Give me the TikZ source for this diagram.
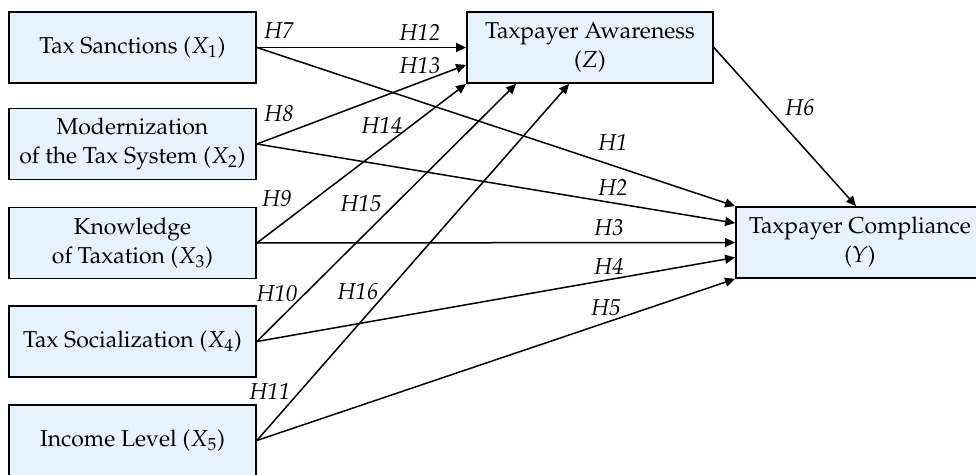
\documentclass[tikz,border=0pt]{standalone}
\usepackage[T1]{fontenc}
\usepackage{mathpazo}
\usepackage{xcolor}
\usepackage{tikz}
\usetikzlibrary{arrows.meta, calc}
\definecolor{boxblue}{RGB}{230,243,252}
\tikzset{
  font=\fontsize{11.5}{14.5}\selectfont,         % palatino text everywhere
  construct/.style = {rectangle, draw, line width=0.9pt, fill=boxblue,
                      minimum width=123.5pt, minimum height=35.5pt,
                      inner sep=0pt, align=center},
  arrow/.style     = {-{Triangle[length=5pt, width=4.5pt]}, line width=0.75pt},
  hyp/.style       = {font=\fontsize{11.5}{13}\selectfont\itshape, inner sep=0pt}
}

\begin{document}
\begin{tikzpicture}[x=0.5pt, y=-0.5pt]
  \clip (0,0) rectangle (976,475);
  \useasboundingbox (0,0) rectangle (976,475);
  % constructs
  \node[construct] (X1) at (132.5,47.5) {Tax Sanctions ($X_1$)};
  \node[construct] (X2) at (132.5,144) {Modernization\\of the Tax System ($X_2$)};
  \node[construct] (X3) at (132.5,243) {Knowledge\\of Taxation ($X_3$)};
  \node[construct] (X4) at (132.5,341.5) {Tax Socialization ($X_4$)};
  \node[construct] (X5) at (132.5,440.5) {Income Level ($X_5$)};
  \node[construct, minimum width=123pt] (Z) at (590,47.5) {Taxpayer Awareness\\($Z$)};
  \node[construct, minimum width=124pt] (Y) at (860,242.5) {Taxpayer Compliance\\($Y$)};
  % paths to awareness
  \draw[arrow] (X1.east) -- (Z.west);
  \draw[arrow] (X2.east) -- ($(Z.south west)+(0,-19)$);
  \draw[arrow] (X3.east) -- (Z.south west);
  \draw[arrow] (X4.east) -- ($(Z.south west)+(50,0)$);
  \draw[arrow] (X5.east) -- ($(Z.south west)+(103,0)$);
  % paths to compliance
  \draw[arrow] (X1.east) -- (Y.north west);
  \draw[arrow] (X2.east) -- ($(Y.north west)+(0,17)$);
  \draw[arrow] (X3.east) -- (Y.west);
  \draw[arrow] (X4.east) -- ($(Y.west)+(0,15)$);
  \draw[arrow] (X5.east) -- (Y.south west);
  \draw[arrow] (Z.east) -- ($(Y.north west)+(121,0)$);
  % hypotheses
  \node[hyp] (h1) at (613,143) {H1};
  \node[hyp] (h2) at (613,188) {H2};
  \node[hyp] (h3) at (609,228) {H3};
  \node[hyp] (h4) at (609,267) {H4};
  \node[hyp] (h5) at (606,308) {H5};
  \node[hyp] (h6) at (800,108) {H6};
  \node[hyp] (h7) at (279,31) {H7};
  \node[hyp] (h8) at (279,114) {H8};
  \node[hyp] (h9) at (277,199) {H9};
  \node[hyp] (h10) at (277,294) {H10};
  \node[hyp] (h11) at (270,392) {H11};
  \node[hyp] (h12) at (420,33) {H12};
  \node[hyp] (h13) at (420,66) {H13};
  \node[hyp] (h14) at (382,126) {H14};
  \node[hyp] (h15) at (361,204) {H15};
  \node[hyp] (h16) at (358,292) {H16};
\end{tikzpicture}
\end{document}
